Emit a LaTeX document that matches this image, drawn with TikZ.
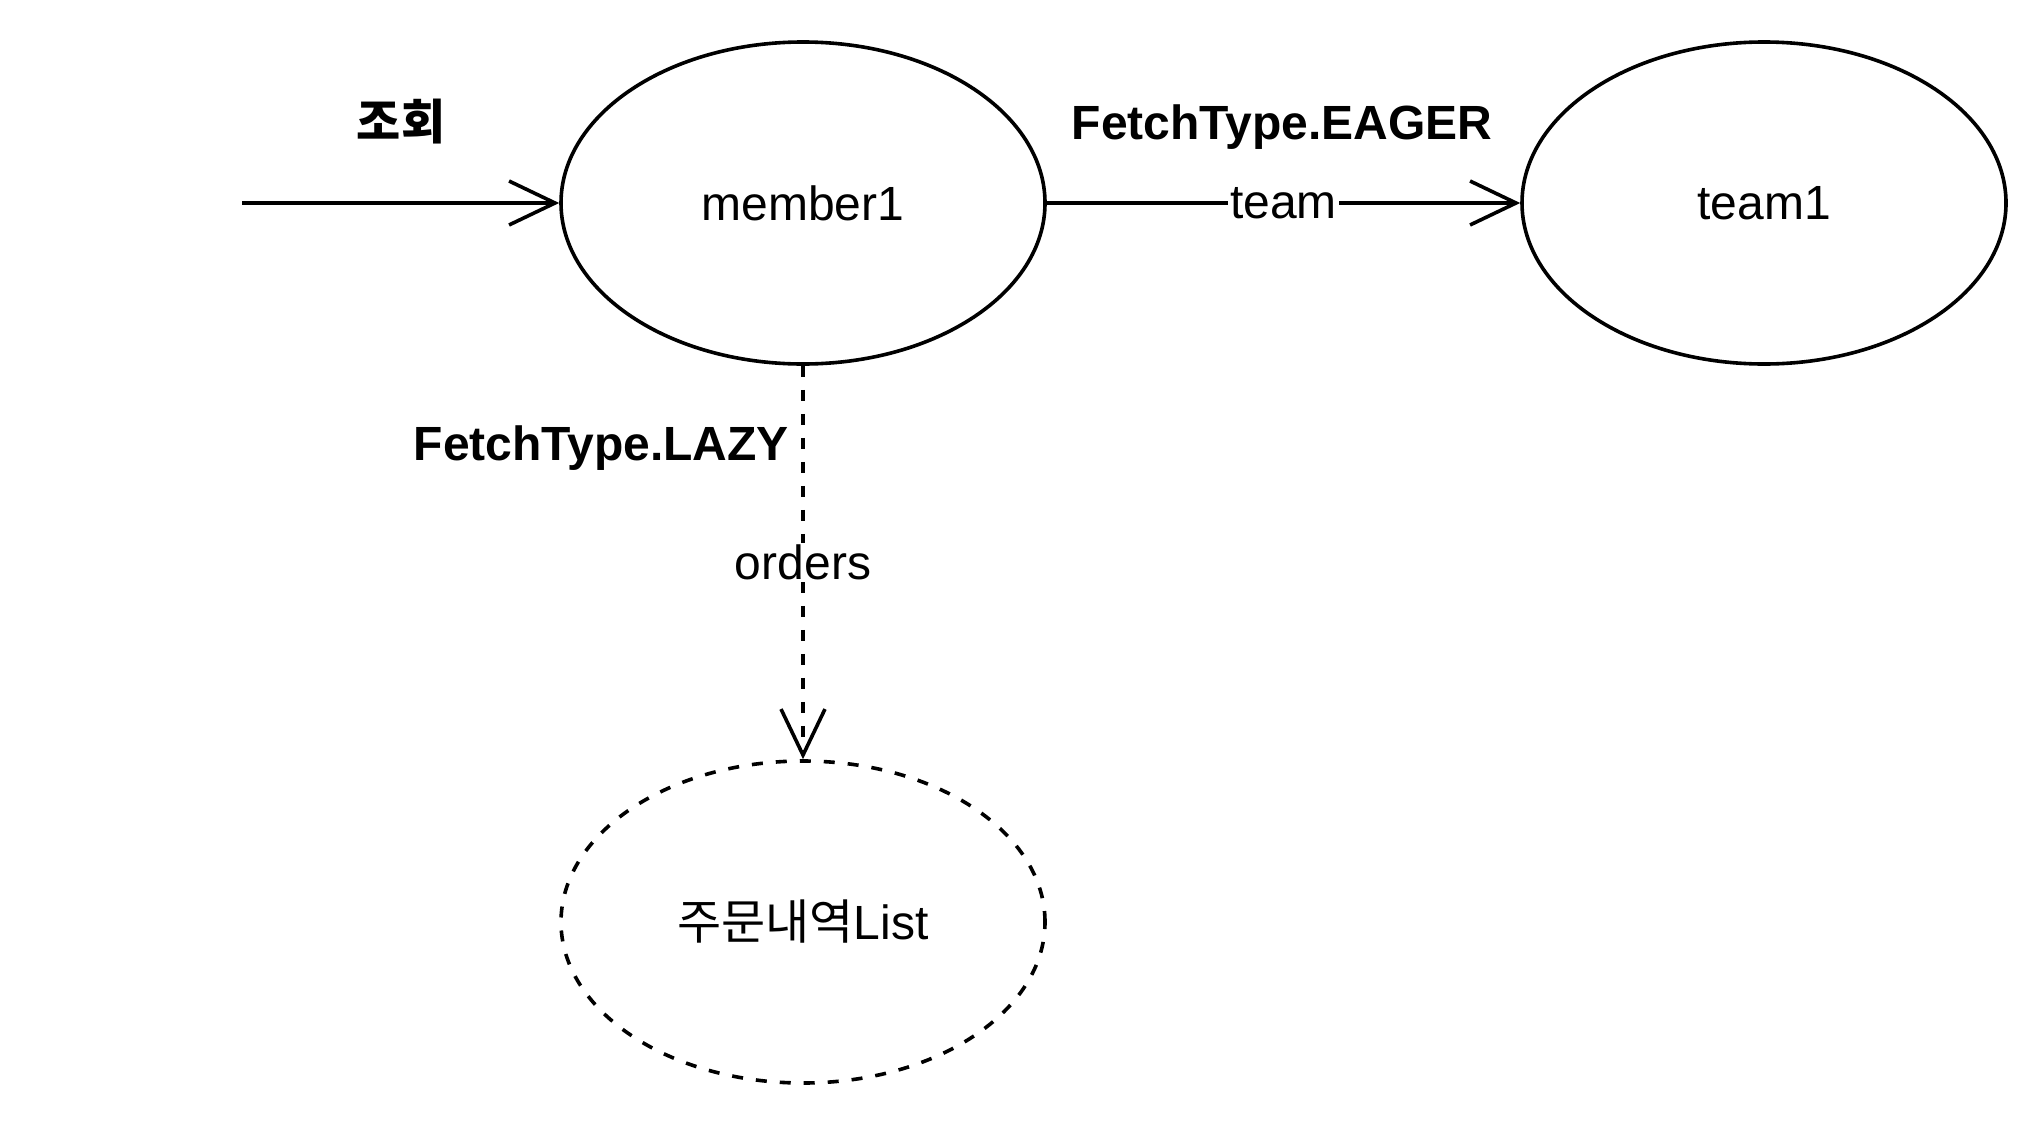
\documentclass[tikz,border=0pt]{standalone}
\usepackage{fontspec}
\setmainfont{Liberation Sans}
\newfontfamily\krfont{Noto Sans CJK KR}
\usetikzlibrary{arrows.meta,shapes.geometric}
\tikzset{
  obj/.style={draw,ellipse,line width=.9pt,minimum width=121pt,minimum height=80.5pt,
    inner sep=0pt,font=\fontsize{12}{14}\selectfont},
  lbl/.style={font=\fontsize{12}{14}\selectfont\bfseries},
  onedge/.style={fill=white,inner sep=.5pt,font=\fontsize{12}{14}\selectfont},
  link/.style={line width=.9pt,-{Straight Barb[length=11.5pt,width=11pt,line width=.9pt]}},
  lazy/.style={dash pattern=on 2.75pt off 3.25pt}
}
\begin{document}
\begin{tikzpicture}[x=.25pt,y=-.25pt]
\useasboundingbox (0,0) rectangle (2044,1124);
% objects
\node[obj] (member) at (803,203) {member1};
\node[obj] (team) at (1764,203) {team1};
\node[obj,lazy] (orders) at (803,922) {{\krfont 주문내역}List};
% labels
\node[lbl] (query) at (401,122) {\krfont 조회};
\node[lbl] (eager) at (1282,127) {FetchType.EAGER};
\node[lbl,anchor=east] (lazylbl) at (803,448) {FetchType.LAZY};
% links
\coordinate (start) at (242,203);
\draw[link] (start) -- (member);
\draw[link] (member) -- node[onedge] {team} (team);
\draw[link,lazy] (member) -- node[onedge] {orders} (orders);
\end{tikzpicture}
\end{document}
